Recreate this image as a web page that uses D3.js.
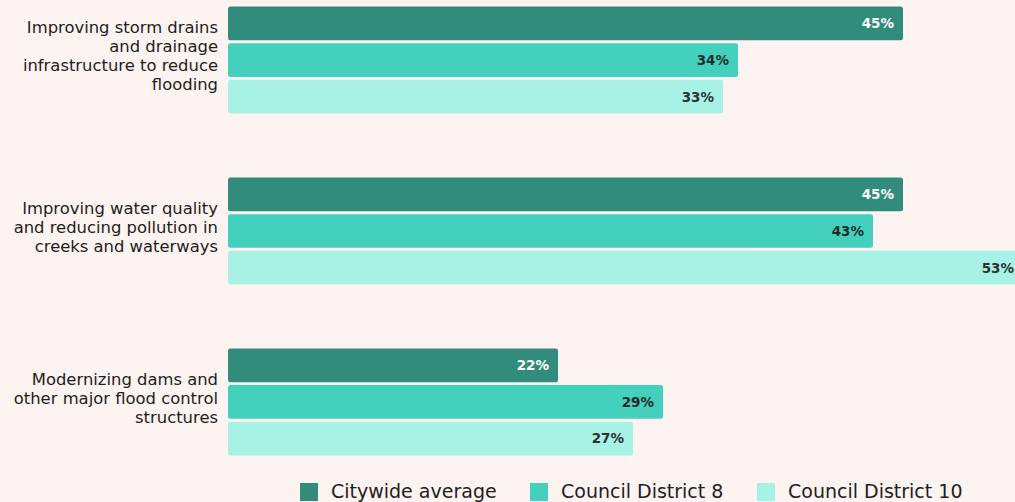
<!DOCTYPE html>
<html><head><meta charset="utf-8">
<script src="https://cdn.jsdelivr.net/npm/d3@7"></script>
<style>
html,body{margin:0;padding:0;background:#fdf3f0;}
svg{display:block;}
</style></head>
<body>
<svg id="chart" width="1015" height="502"></svg>
<script>
const categories = [
  ["Improving storm drains", "and drainage", "infrastructure to reduce", "flooding"],
  ["Improving water quality", "and reducing pollution in", "creeks and waterways"],
  ["Modernizing dams and", "other major flood control", "structures"]
];
const seriesNames = ["Citywide average", "Council District 8", "Council District 10"];
const citywide = [45, 45, 22];
const district8 = [34, 43, 29];
const district10 = [33, 53, 27];
const colors = ["#318c7c", "#43d1bd", "#a8f1e5"];
const labelColors = ["#ffffff", "#1f2b2a", "#2b3332"];

const seriesValues = [citywide, district8, district10];
const catKeys = categories.map((c, i) => i);

const svg = d3.select("#chart");
const W = 1015, H = 502;
svg.append("rect").attr("width", W).attr("height", H).attr("fill", "#fdf3f0");

const x = d3.scaleLinear().domain([0, 45]).range([228, 903]);
const y0 = d3.scaleBand().domain(catKeys).range([6.5, 455.5]).paddingInner(0.374).paddingOuter(0);
const y1 = d3.scaleBand().domain(d3.range(3)).range([0, y0.bandwidth()]).paddingInner(0.08);

const groups = svg.append("g").selectAll("g").data(catKeys).join("g")
  .attr("transform", d => `translate(0,${y0(d)})`);

groups.each(function(ci) {
  const g = d3.select(this);
  const data = seriesValues.map((s, si) => ({si, v: s[ci]}));
  g.selectAll("rect").data(data).join("rect")
    .attr("x", x(0))
    .attr("y", d => y1(d.si))
    .attr("width", d => x(d.v) - x(0))
    .attr("height", y1.bandwidth())
    .attr("rx", 2.5)
    .attr("fill", d => colors[d.si]);
  g.selectAll("text.val").data(data).join("text")
    .attr("class", "val")
    .attr("x", d => x(d.v) - 9)
    .attr("y", d => y1(d.si) + y1.bandwidth() / 2)
    .attr("dy", "0.36em")
    .attr("text-anchor", "end")
    .attr("font-family", "DejaVu Sans")
    .attr("font-weight", "bold")
    .attr("font-size", 13.5)
    .attr("fill", d => labelColors[d.si])
    .text(d => d.v + "%");
  const lines = categories[ci];
  const lh = 19;
  const cy = y0.bandwidth() / 2 - 4;
  const t = g.append("text")
    .attr("text-anchor", "end")
    .attr("font-family", "DejaVu Sans")
    .attr("font-size", 16.4)
    .attr("fill", "#1e1e1e");
  lines.forEach((ln, li) => {
    t.append("tspan")
      .attr("x", 218)
      .attr("y", cy + (li - (lines.length - 1) / 2) * lh)
      .attr("dy", "0.36em")
      .text(ln);
  });
});

const legendX = [300, 530, 757];
const leg = svg.append("g").selectAll("g").data(seriesNames).join("g")
  .attr("transform", (d, i) => `translate(${legendX[i]},0)`);
leg.append("rect").attr("x", 0).attr("y", 483).attr("width", 18).attr("height", 18)
  .attr("fill", (d, i) => colors[i]);
leg.append("text").attr("x", 31).attr("y", 498)
  .attr("font-family", "DejaVu Sans").attr("font-size", 19).attr("fill", "#1e1e1e")
  .text(d => d);
</script>
</body></html>
